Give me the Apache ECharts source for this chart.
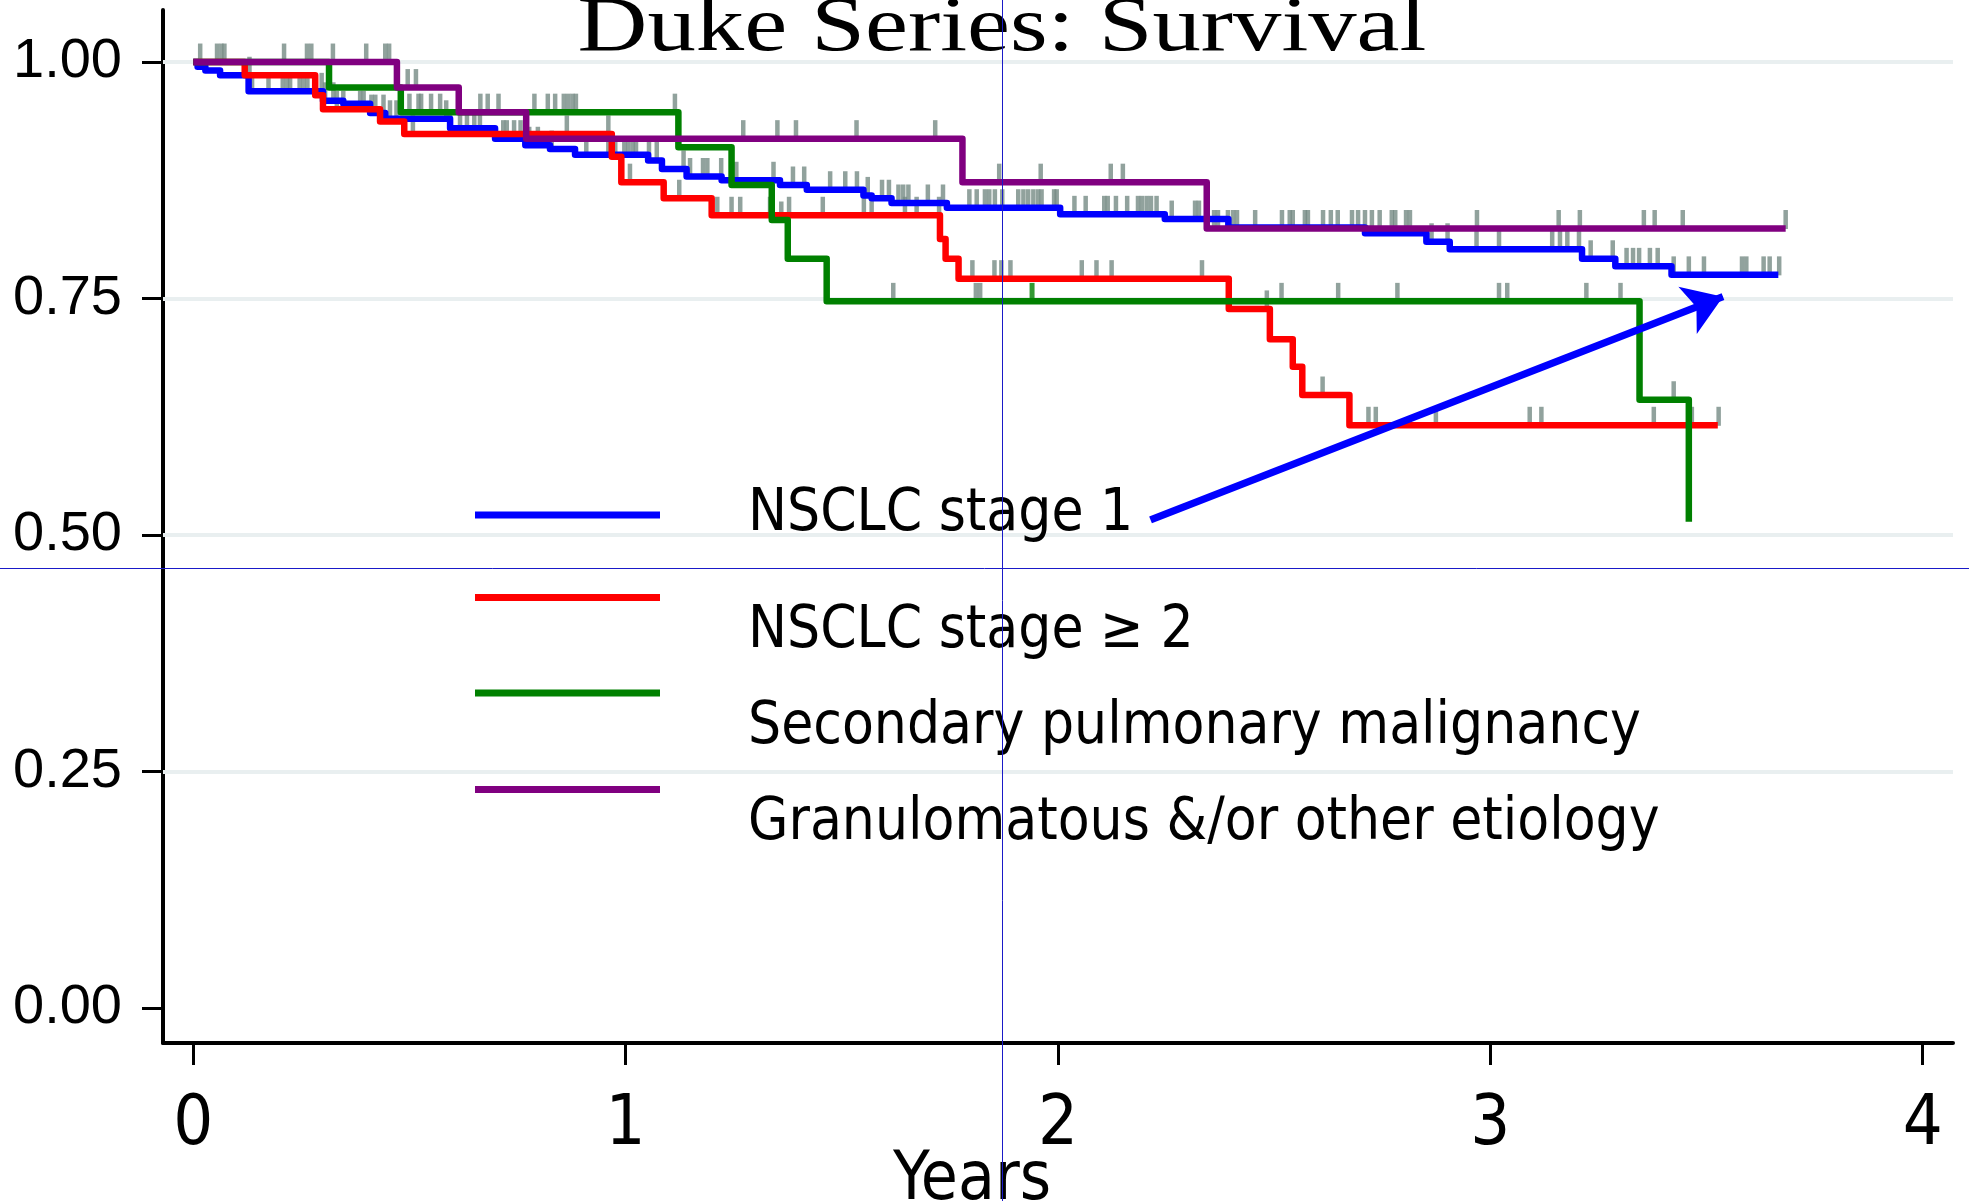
<!DOCTYPE html>
<html>
<head>
<meta charset="utf-8">
<title>Duke Series: Survival</title>
<script src="https://cdn.jsdelivr.net/npm/echarts@6/dist/echarts.min.js"></script>
<style>
  html, body { margin: 0; padding: 0; background: #fff; }
  #main { width: 1969px; height: 1201px; }
</style>
</head>
<body>
<div id="main"></div>
<script>
// Kaplan-Meier steps (years, survival)
var blueTimes = [0, 0.01, 0.028, 0.062, 0.128, 0.30, 0.347, 0.409, 0.444, 0.594, 0.698, 0.768, 0.825, 0.883, 1.052, 1.084, 1.141, 1.222, 1.357, 1.419, 1.55, 1.569, 1.615, 1.743, 2.005, 2.247, 2.394, 2.71, 2.852, 2.906, 3.212, 3.289, 3.419, 3.666];
var blueSurv  = [1.0, 0.995, 0.991, 0.986, 0.969, 0.959, 0.956, 0.946, 0.940, 0.930, 0.919, 0.912, 0.908, 0.902, 0.896, 0.887, 0.879, 0.875, 0.870, 0.865, 0.859, 0.856, 0.851, 0.846, 0.839, 0.834, 0.825, 0.819, 0.810, 0.802, 0.792, 0.784, 0.775, 0.775];

var redTimes = [0, 0.119, 0.282, 0.30, 0.432, 0.488, 0.968, 0.99, 1.088, 1.199, 1.727, 1.74, 1.770, 2.395, 2.490, 2.543, 2.565, 2.674, 3.526];
var redSurv  = [1.0, 0.986, 0.965, 0.950, 0.937, 0.924, 0.900, 0.873, 0.856, 0.838, 0.813, 0.792, 0.771, 0.739, 0.707, 0.678, 0.648, 0.616, 0.616];

var greenTimes = [0, 0.314, 0.48, 1.122, 1.245, 1.338, 1.375, 1.465, 3.345, 3.459];
var greenSurv  = [1.0, 0.973, 0.947, 0.910, 0.870, 0.833, 0.792, 0.747, 0.643, 0.514];

var purpleTimes = [0, 0.471, 0.614, 0.770, 1.779, 2.344, 3.683];
var purpleSurv  = [1.0, 0.973, 0.947, 0.919, 0.873, 0.824, 0.824];

// censoring times (ticks)
var blueCensor = [0.136, 0.174, 0.207, 0.217, 0.224, 0.246, 0.255, 0.264, 0.297, 0.305, 0.324, 0.412, 0.421, 0.44, 0.455, 0.47,
  0.585, 0.594, 0.617, 0.633, 0.650, 0.663, 0.717, 0.725, 0.742, 0.757, 0.777, 0.797, 0.829, 0.909, 0.960, 0.976, 0.997,
  1.006, 1.016, 1.024, 1.054, 1.072, 1.134, 1.149, 1.179, 1.189, 1.221, 1.256, 1.342, 1.387, 1.413, 1.473, 1.508, 1.535,
  1.560, 1.593, 1.609, 1.631, 1.642, 1.654, 1.699, 1.734, 1.795, 1.812, 1.831, 1.841, 1.854, 1.871, 1.908, 1.920, 1.931,
  1.943, 1.954, 1.962, 1.991, 1.997, 2.038, 2.064, 2.107, 2.115, 2.134, 2.160, 2.185, 2.194, 2.205, 2.215, 2.228, 2.263,
  2.317, 2.326, 2.864, 2.901, 2.968, 3.020, 3.143, 3.161, 3.178, 3.205, 3.232, 3.283, 3.315, 3.330, 3.344, 3.369, 3.387,
  3.424, 3.459, 3.494, 3.582, 3.592, 3.632, 3.646, 3.668];
var redCensor = [0.13, 0.332, 0.347, 0.386, 0.394, 0.508, 0.864, 0.96, 1.01, 1.124, 1.212, 1.245, 1.265, 1.334, 1.378, 1.456,
  1.551, 1.569, 1.646, 1.673, 1.725, 1.802, 1.853, 1.869, 1.890, 2.055, 2.089, 2.124, 2.333, 2.483, 2.612, 2.718, 2.735,
  2.874, 3.091, 3.118, 3.378, 3.466, 3.528];
var greenCensor = [0.50, 0.521, 0.527, 0.550, 0.571, 0.789, 0.820, 0.837, 0.857, 0.867, 0.877, 0.885, 1.114, 1.36, 1.619,
  1.81, 1.82, 2.517, 2.648, 2.785, 3.020, 3.039, 3.222, 3.301, 3.424];
var purpleCensor = [0.016, 0.055, 0.065, 0.072, 0.21, 0.263, 0.273, 0.323, 0.400, 0.444, 0.453, 0.496, 0.515, 0.664, 0.681,
  0.706, 1.272, 1.351, 1.394, 1.534, 1.716, 1.864, 1.960, 2.122, 2.150, 2.361, 2.370, 2.393, 2.405, 2.414, 2.456, 2.518,
  2.536, 2.543, 2.571, 2.578, 2.613, 2.631, 2.647, 2.680, 2.694, 2.710, 2.726, 2.744, 2.772, 2.780, 2.805, 2.814, 2.969,
  3.158, 3.207, 3.355, 3.380, 3.445, 3.683];
var greenLineCensor = [1.94];

var groupNames = ['NSCLC stage 1', 'NSCLC stage \u2265 2', 'Secondary pulmonary malignancy', 'Granulomatous &/or other etiology'];
var groupColors = ['#0000ff', '#ff0000', '#008000', '#800080'];

var xTicks = [0, 1, 2, 3, 4];
var yTicks = [0, 0.25, 0.5, 0.75, 1];
var gridLevels = [0.25, 0.5, 0.75, 1];
var arrowFrom = [2.214, 0.516];
var arrowTo = [3.538, 0.752];

function steps(times, surv) {
  return times.map(function (t, i) { return [t, surv[i]]; });
}
function survAt(times, surv, t) {
  var s = surv[0];
  for (var i = 0; i < times.length; i++) {
    if (times[i] <= t) s = surv[i];
  }
  return s;
}
function ticks(censor, times, surv) {
  return censor.map(function (t) { return [t, survAt(times, surv, t)]; });
}

// pick a condensed sans face if one is installed
var ctx = document.createElement('canvas').getContext('2d');
function textWidth(font, s) { ctx.font = font; return ctx.measureText(s).width; }
function hasFont(name) {
  var s = 'abcdefghijklmnopqrstuvwxyz0123456789';
  return textWidth('40px "' + name + '", monospace', s) !== textWidth('40px monospace', s) ||
    textWidth('40px "' + name + '", serif', s) !== textWidth('40px serif', s);
}
var narrow = ['Liberation Sans Narrow', 'DejaVu Sans Condensed', 'Roboto Condensed', 'Open Sans Condensed', 'Noto Sans Condensed']
  .filter(hasFont)[0];
var sansFont = narrow || 'Liberation Sans';
var legendSize = Math.round(1.04 * 861 / textWidth('100px "' + sansFont + '"', 'Secondary pulmonary malignancy') * 100);
var nameSize = Math.round(1.04 * 151 / textWidth('100px "' + sansFont + '"', 'Years') * 100);
var xLabelSize = narrow ? 70 : 60;

var curves = [
  [blueTimes, blueSurv, blueCensor],
  [redTimes, redSurv, redCensor],
  [greenTimes, greenSurv, greenCensor],
  [purpleTimes, purpleSurv, purpleCensor]
];

var series = curves.map(function (c, i) {
  return {
    name: groupNames[i],
    type: 'line',
    step: 'end',
    data: steps(c[0], c[1]),
    showSymbol: false,
    color: groupColors[i],
    itemStyle: { color: groupColors[i] },
    lineStyle: { color: groupColors[i], width: 6.5, join: 'round' },
    silent: true
  };
});

// light horizontal grid lines under the curves
series[0].markLine = {
  silent: true,
  z: 1,
  symbol: ['none', 'none'],
  label: { show: false },
  lineStyle: { color: '#e9eff0', width: 4, type: 'solid' },
  data: gridLevels.map(function (v) { return { yAxis: v }; })
};
// arrow pointing at stage 1 curve
series[3].markLine = {
  silent: true,
  symbol: ['none', 'arrow'],
  symbolSize: 38,
  label: { show: false },
  lineStyle: { color: '#0000ff', width: 7.5, type: 'solid' },
  data: [[{ coord: arrowFrom }, { coord: arrowTo }]]
};

var tickData = [];
curves.forEach(function (c) { tickData = tickData.concat(ticks(c[2], c[0], c[1])); });
series.push({
  name: 'censored',
  type: 'scatter',
  symbol: 'rect',
  symbolSize: [4.5, 19],
  symbolOffset: [0, -9],
  itemStyle: { color: '#768b84' },
  data: tickData,
  silent: true
});
series.push({
  name: 'censored green',
  type: 'scatter',
  symbol: 'rect',
  symbolSize: [5, 19],
  symbolOffset: [0, -9],
  itemStyle: { color: '#008000' },
  data: ticks(greenLineCensor, greenTimes, greenSurv),
  silent: true
});

// legend: icon line sits above the text for the lower three entries
var iconCenters = [515, 597.5, 693, 789.5];
var tallIcon = 'path://M0,0L185,0L185,7L0,7Z M0,76L185,76';
var legends = groupNames.map(function (name, i) {
  var first = i === 0;
  var top = first ? iconCenters[i] - legendSize / 2
    : iconCenters[i] - 3.5 - Math.max(0, legendSize / 2 - 38);
  return {
    data: [name],
    left: 475,
    top: top,
    padding: 0,
    orient: 'vertical',
    icon: first ? 'rect' : tallIcon,
    itemWidth: 185,
    itemHeight: first ? 7 : 76,
    symbolKeepAspect: false,
    itemStyle: { borderWidth: 0 },
    selectedMode: false,
    textStyle: {
      fontFamily: sansFont,
      fontSize: legendSize,
      color: '#000',
      padding: [0, 0, 0, 83]
    }
  };
});

var chart = echarts.init(document.getElementById('main'));
chart.setOption({
  animation: false,
  backgroundColor: '#fff',
  textStyle: { fontFamily: 'Liberation Sans' },
  grid: { left: 163, right: 16, top: 10, bottom: 158, outerBoundsMode: 'none' },
  legend: legends,
  xAxis: {
    type: 'value',
    min: -0.07,
    max: 4.07,
    name: 'Years',
    nameLocation: 'middle',
    nameGap: 105,
    nameMoveOverlap: false,
    nameTextStyle: {
      fontFamily: sansFont, fontSize: nameSize, color: '#000',
      padding: [0, 172, 0, 0]
    },
    axisLine: { show: true, onZero: false, lineStyle: { color: '#000', width: 4 } },
    axisTick: { show: true, customValues: xTicks, length: 22, lineStyle: { color: '#000', width: 3 } },
    axisLabel: {
      customValues: xTicks, margin: 48, color: '#000',
      fontFamily: sansFont, fontSize: xLabelSize
    },
    splitLine: { show: false }
  },
  yAxis: {
    type: 'value',
    min: -0.037,
    max: 1.055,
    axisLine: { show: true, onZero: false, lineStyle: { color: '#000', width: 4 } },
    axisTick: { show: true, customValues: yTicks, length: 21, lineStyle: { color: '#000', width: 3 } },
    axisLabel: {
      customValues: yTicks, margin: 41, color: '#000',
      fontFamily: 'Liberation Sans', fontSize: 56,
      formatter: function (v) { return Number(v).toFixed(2); }
    },
    splitLine: { show: false }
  },
  graphic: [
    {
      type: 'text',
      x: 1002, y: 30, scaleX: 1.24, z: 10,
      style: {
        text: 'Duke Series: Survival',
        font: '78px "Liberation Serif"',
        fill: '#000',
        align: 'center',
        verticalAlign: 'middle'
      }
    },
    // thin crosshair lines present in the source image
    { type: 'line', z: 20, silent: true, shape: { x1: 1002.5, y1: 0, x2: 1002.5, y2: 1201 }, style: { stroke: '#1a1ac8', lineWidth: 1 } },
    { type: 'line', z: 20, silent: true, shape: { x1: 0, y1: 568.5, x2: 1969, y2: 568.5 }, style: { stroke: '#1a1ac8', lineWidth: 1 } }
  ],
  series: series
});
</script>
</body>
</html>
